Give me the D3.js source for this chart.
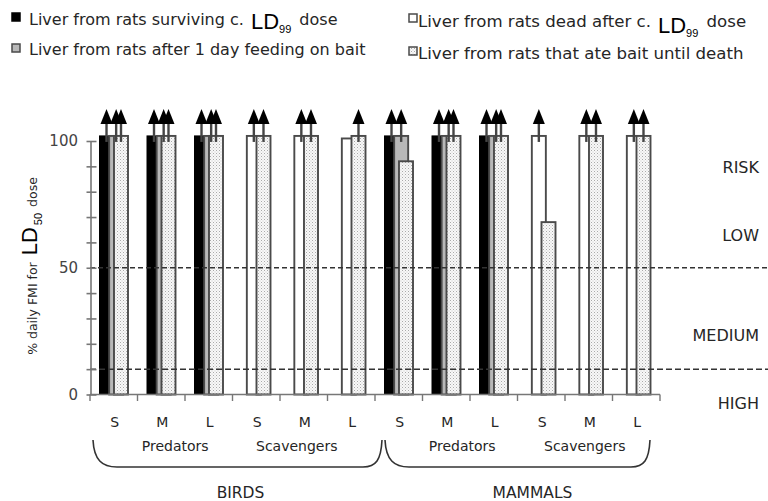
<!DOCTYPE html>
<html><head><meta charset="utf-8">
<script src="https://cdn.jsdelivr.net/npm/d3@7"></script>
<style>
html,body{margin:0;padding:0;background:#fff;}
svg{display:block;}
text{font-family:"DejaVu Sans",sans-serif;}
</style></head><body>
<svg id="chart" width="768" height="501"></svg>
<script>
// ---------------- DATA ----------------
const categories = ["S","M","L","S","M","L","S","M","L","S","M","L"];
const feeders = ["Predators","Scavengers","Predators","Scavengers"];
const animalClasses = ["BIRDS","MAMMALS"];
const riskLabels = ["RISK","LOW","MEDIUM","HIGH"];
const yTicks = [0,10,20,30,40,50,60,70,80,90,100];
const yTickLabels = [0,50,100];
const thresholds = [50,10];
const seriesKeys = ["survivingLD99","deadLD99","oneDayBait","baitUntilDeath"];
const seriesLabels = [
  "Liver from rats surviving c.",
  "Liver from rats dead after c.",
  "Liver from rats after 1 day feeding on bait",
  "Liver from rats that ate bait until death"
];
const OVER = ">100";        // value off the top of the scale (drawn with an arrow)
const OVER_PLOTTED = 102;   // height at which off-scale bars are clipped
const survivingLD99  = [OVER,OVER,OVER,null,null,null,OVER,OVER,OVER,null,null,null];
const deadLD99       = [null,null,null,OVER,OVER,101,null,null,null,OVER,OVER,OVER];
const oneDayBait     = [OVER,OVER,OVER,null,null,null,OVER,OVER,OVER,null,null,null];
const baitUntilDeath = [OVER,OVER,OVER,OVER,OVER,OVER,92,OVER,OVER,68,OVER,OVER];
const seriesValues = [survivingLD99, deadLD99, oneDayBait, baitUntilDeath];

// ---------------- CHART ----------------
const svg = d3.select("#chart");
const defs = svg.append("defs");
const pat = defs.append("pattern").attr("id","dots").attr("patternUnits","userSpaceOnUse")
  .attr("width",3).attr("height",3);
pat.append("rect").attr("width",3).attr("height",3).attr("fill","#f8f8f8");
pat.append("rect").attr("x",0).attr("y",0).attr("width",1).attr("height",1).attr("fill","#aaa");
pat.append("rect").attr("x",1.5).attr("y",1.5).attr("width",1).attr("height",1).attr("fill","#c8c8c8");

const fills = ["#000","#fff","#b8b8b8","url(#dots)"];
const strokes = ["#000","#4a4a4a","#4a4a4a","#4a4a4a"];
const textColor = "#262626";

const x = d3.scaleBand().domain(d3.range(categories.length)).range([90,660]).padding(0);
const bw = x.bandwidth();
const sx = d3.scalePoint().domain(seriesKeys).range([0.2*bw, 0.505*bw]);
const barW = 0.295*bw;
const y = d3.scaleLinear().domain([0,100]).range([394.5,141]);
const plotted = v => v === OVER ? OVER_PLOTTED : v;

// bars
seriesKeys.forEach((key,k) => {
  const data = seriesValues[k].map((v,i)=>({i,v})).filter(d=>d.v!==null);
  svg.append("g").selectAll("rect").data(data).join("rect")
    .attr("x", d => x(d.i)+sx(key))
    .attr("y", d => y(plotted(d.v)))
    .attr("width", barW)
    .attr("height", d => y(0)-y(plotted(d.v)))
    .attr("fill", fills[k])
    .attr("stroke", strokes[k])
    .attr("stroke-width", k===0?1:1.9);
});

// threshold dashed lines
svg.append("g").selectAll("line").data(thresholds).join("line")
  .attr("x1",90).attr("x2",768)
  .attr("y1",d=>y(d)).attr("y2",d=>y(d))
  .attr("stroke","#333").attr("stroke-width",1.5)
  .attr("stroke-dasharray",(d,i)=>i===0?"5,3":"6,3");

// arrows for off-scale values
const arrows = [];
seriesKeys.forEach((key,k)=>seriesValues[k].forEach((v,i)=>{ if(v===OVER) arrows.push({i,key}); }));
const ag = svg.append("g");
const yTop = y(OVER_PLOTTED);
ag.selectAll("line").data(arrows).join("line")
  .attr("x1",d=>x(d.i)+sx(d.key)+barW/2).attr("x2",d=>x(d.i)+sx(d.key)+barW/2)
  .attr("y1",yTop-13).attr("y2",yTop+6)
  .attr("stroke","#444").attr("stroke-width",2.4);
ag.selectAll("path").data(arrows).join("path")
  .attr("d",d=>{const cx=x(d.i)+sx(d.key)+barW/2; return `M${cx},${yTop-27} L${cx+6},${yTop-12} L${cx-6},${yTop-12} Z`;})
  .attr("fill","#000");

// y axis
const yAxis = d3.axisLeft(y).tickValues(yTicks).tickSizeOuter(0).tickSizeInner(4)
  .tickFormat(d => yTickLabels.includes(d) ? d : "");
const yg = svg.append("g").attr("transform","translate(90.5,0)").call(yAxis);
yg.select(".domain").attr("stroke","#777").attr("stroke-width",1.6);
yg.selectAll(".tick line").attr("x1",-4).attr("x2",6).attr("stroke","#777").attr("stroke-width",1.6);
yg.selectAll(".tick text").attr("x",-12.5).attr("font-size",15).attr("fill","#444")
  .attr("font-family","DejaVu Sans");

// x axis
const xg = svg.append("g");
xg.append("line").attr("x1",x.range()[0]).attr("x2",x.range()[1]).attr("y1",y(0)).attr("y2",y(0))
  .attr("stroke","#777").attr("stroke-width",1.6);
const bounds = d3.range(categories.length+1).map(i => i<categories.length ? x(i) : x.range()[1]);
xg.selectAll("line.b").data(bounds).join("line").attr("class","b")
  .attr("x1",d=>d).attr("x2",d=>d).attr("y1",y(0)).attr("y2",y(0)+6.5)
  .attr("stroke","#777").attr("stroke-width",1.4);
xg.selectAll("text").data(categories).join("text")
  .attr("x",(d,i)=>x(i)+bw/2+1).attr("y",427)
  .attr("text-anchor","middle").attr("font-size",14).attr("fill",textColor).text(d=>d);

// feeder labels
const feederPos = [[0,14],[3,-7],[6,16],[9,-4]];
svg.append("g").selectAll("text").data(feeders).join("text")
  .attr("x",(d,j)=>x(feederPos[j][0])+1.5*bw+feederPos[j][1]).attr("y",450.5)
  .attr("text-anchor","middle").attr("font-size",14).attr("fill",textColor).text(d=>d);

// braces
const braceEnds = [[x(0)+3, x(5)+bw+7],[x(6)+10, x(11)+bw-10]];
svg.append("g").selectAll("path").data(braceEnds).join("path")
  .attr("d",([a,b])=>`M${a},440 C${a+1},460 ${a+9},467 ${a+24},467 L${b-19},467 C${b-6},467 ${b-1},460 ${b},440`)
  .attr("fill","none").attr("stroke","#333").attr("stroke-width",1.6);

// class labels
const classPos = [[0,8],[6,15]];
svg.append("g").selectAll("text").data(animalClasses).join("text")
  .attr("x",(d,j)=>x(classPos[j][0])+3*bw+classPos[j][1]).attr("y",498)
  .attr("text-anchor","middle").attr("font-size",15.5).attr("fill",textColor).text(d=>d);

// risk labels
const riskY = [172.5,240.5,340.5,409];
svg.append("g").selectAll("text").data(riskLabels).join("text")
  .attr("x",759).attr("y",(d,i)=>riskY[i]).attr("text-anchor","end")
  .attr("font-size",16).attr("fill",textColor).text(d=>d);

// y title
const yt = svg.append("text").attr("transform","translate(36.5,266) rotate(-90)")
  .attr("text-anchor","middle").attr("fill",textColor);
yt.append("tspan").attr("font-size",12.5).text("% daily FMI for ");
yt.append("tspan").attr("font-size",22).attr("font-family","Liberation Sans").attr("fill","#000").attr("dx",3).text("LD");
yt.append("tspan").attr("font-size",11).attr("font-family","Liberation Sans").attr("fill","#000").attr("dy",5).attr("dx",2).text("50");
yt.append("tspan").attr("font-size",12.5).attr("dy",-5).attr("dx",2).text(" dose");

// legend
const legendLayout = [
  {x:12, sy:13, tx:29, ty:25, fs:16, ld:true, ldDy:4, sub:"99"},
  {x:409, sy:14, tx:418, ty:26.5, fs:16.6, ld:true, ldDy:6.5, sub:"99"},
  {x:12, sy:44, tx:29, ty:54.5, fs:16, ld:false},
  {x:409, sy:47, tx:418, ty:59, fs:16.6, ld:false}
];
const legendSeries = [0,1,2,3];
legendSeries.forEach((k,j)=>{
  const L = legendLayout[j];
  svg.append("rect").attr("x",L.x).attr("y",L.sy).attr("width",8).attr("height",8)
    .attr("fill",fills[k]).attr("stroke",strokes[k]).attr("stroke-width",1.5);
  const t = svg.append("text").attr("x",L.tx).attr("y",L.ty).attr("fill",textColor).attr("font-size",L.fs);
  t.append("tspan").text(seriesLabels[k]);
  if(L.ld){
    t.append("tspan").attr("font-size",22).attr("font-family","Liberation Sans").attr("fill","#000")
      .attr("dx",7).attr("dy",L.ldDy).text("LD");
    t.append("tspan").attr("font-size",11).attr("font-family","Liberation Sans").attr("fill","#000")
      .attr("dy",4).text(L.sub);
    t.append("tspan").attr("dy",-(L.ldDy+4)).attr("dx",3).text(" dose");
  }
});
</script>
</body></html>
